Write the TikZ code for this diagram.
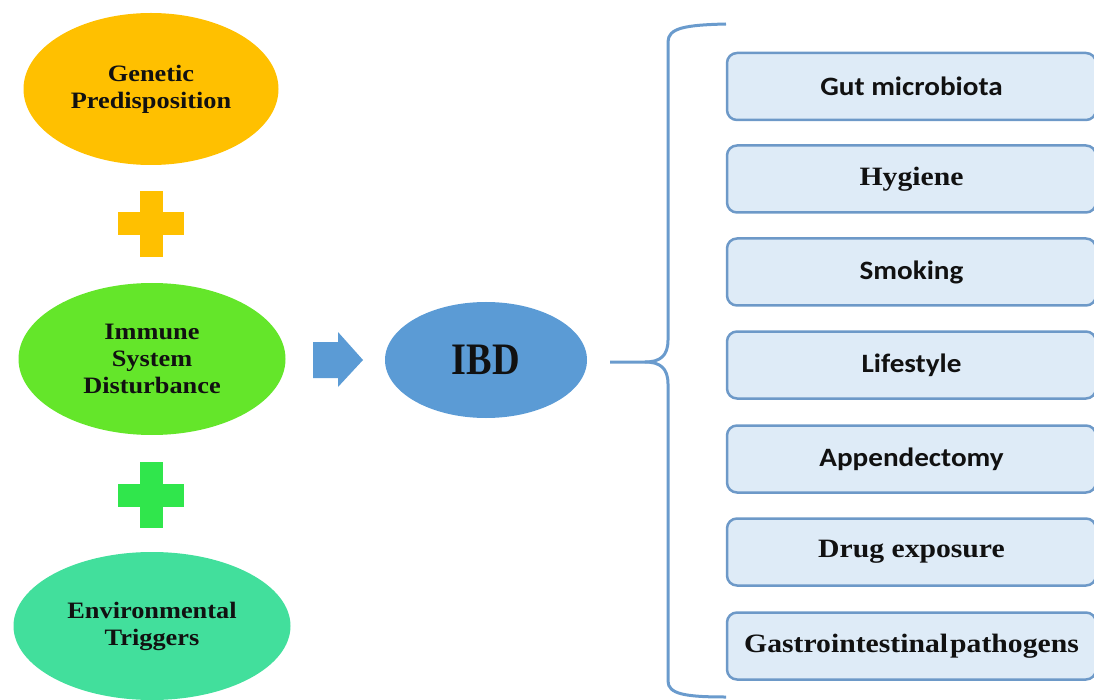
\documentclass[tikz,border=0pt]{standalone}
\usepackage{fontspec}
\setmainfont{Liberation Serif}
\newfontfamily\tnrfont[FakeStretch=1.12]{Liberation Serif}
\newfontfamily\ibdfont[FakeStretch=0.85]{Liberation Serif}
\newfontfamily\calfont[FakeStretch=1.10]{Carlito}
\usetikzlibrary{shapes.geometric,calc}
\definecolor{cYellow}{HTML}{FFC000}
\definecolor{cImmune}{HTML}{64E62A}
\definecolor{cPlusG}{HTML}{30E64C}
\definecolor{cEnv}{HTML}{42DF9C}
\definecolor{cBlue}{HTML}{5B9BD5}
\definecolor{cBrace}{HTML}{6A9BCD}
\definecolor{cBoxFill}{HTML}{DEEBF7}
\definecolor{cBoxLine}{HTML}{6D99C8}
\definecolor{cText}{HTML}{111111}
\tikzset{
  blob/.style={ellipse, inner sep=0pt, align=center, text=cText,
    font=\tnrfont\bfseries\fontsize{23.5}{27}\selectfont},
  factor/.style={rectangle, rounded corners=10pt, draw=cBoxLine, line width=2.5pt,
    fill=cBoxFill, minimum width=369pt, minimum height=67pt, inner sep=0pt, text=cText},
  serifbox/.style={factor, font=\tnrfont\bfseries\fontsize{26.5}{30}\selectfont},
  sansbox/.style={factor, font=\calfont\bfseries\fontsize{26.5}{30}\selectfont},
  bracepath/.style={draw=cBrace, line width=3pt}
}
\newcommand{\plussign}[3]{%
  \fill[#3] ($(#1)+(-11.5,-#2)$) rectangle ($(#1)+(11.5,#2)$);
  \fill[#3] ($(#1)+(-#2,-11.5)$) rectangle ($(#1)+(#2,11.5)$);}
\begin{document}
\begin{tikzpicture}[x=1pt,y=-1pt]
\useasboundingbox (0,0) rectangle (1094,700);
\clip (0,0) rectangle (1094,700);
% left column
\node[blob, fill=cYellow, minimum width=255pt, minimum height=152pt] (gen) at (151,89) {Genetic\\Predisposition};
\node[blob, fill=cImmune, minimum width=267pt, minimum height=152pt] (imm) at (152,359) {Immune\\System\\Disturbance};
\node[blob, fill=cEnv, minimum width=277pt, minimum height=148pt] (env) at (152,626) {Environmental\\Triggers};
\coordinate (p1) at (151,224);
\coordinate (p2) at (151,495);
\plussign{p1}{33}{cYellow}
\plussign{p2}{33}{cPlusG}
% arrow
\coordinate (arr) at (338,360);
\fill[cBlue] ($(arr)+(-25,-18)$) -- ($(arr)+(0,-18)$) -- ($(arr)+(0,-28)$) -- ($(arr)+(25,0)$)
  -- ($(arr)+(0,27)$) -- ($(arr)+(0,18)$) -- ($(arr)+(-25,18)$) -- cycle;
% IBD
\node[ellipse, fill=cBlue, minimum width=202pt, minimum height=116pt, inner sep=0pt, text=cText,
  font=\ibdfont\bfseries\fontsize{45}{50}\selectfont] (ibd) at (486,360) {IBD};
% brace
\coordinate (bs) at (610,362);
\coordinate (bc) at (645,362);
\coordinate (btop) at (726,24);
\coordinate (bbot) at (726,697);
\draw[bracepath] (bs) -- (bc) .. controls (660,362) and (668,356) .. (668,340) -- (668,42)
  .. controls (668,28) and (685,25) .. (btop);
\draw[bracepath] (bc) .. controls (660,362) and (668,368) .. (668,384) -- (668,681)
  .. controls (668,694) and (685,697) .. (bbot);
% factor boxes
\node[sansbox] (b1) at (911.5,86.5) {Gut microbiota};
\node[serifbox] (b2) at (911.5,179) {Hygiene};
\node[sansbox] (b3) at (911.5,272) {Smoking};
\node[sansbox] (b4) at (911.5,365) {Lifestyle};
\node[sansbox] (b5) at (911.5,459) {Appendectomy};
\node[serifbox] (b6) at (911.5,552) {Drug exposure};
\node[serifbox] (b7) at (911.5,646) {Gastrointestinal\hspace{0.08em}pathogens};
\end{tikzpicture}
\end{document}
